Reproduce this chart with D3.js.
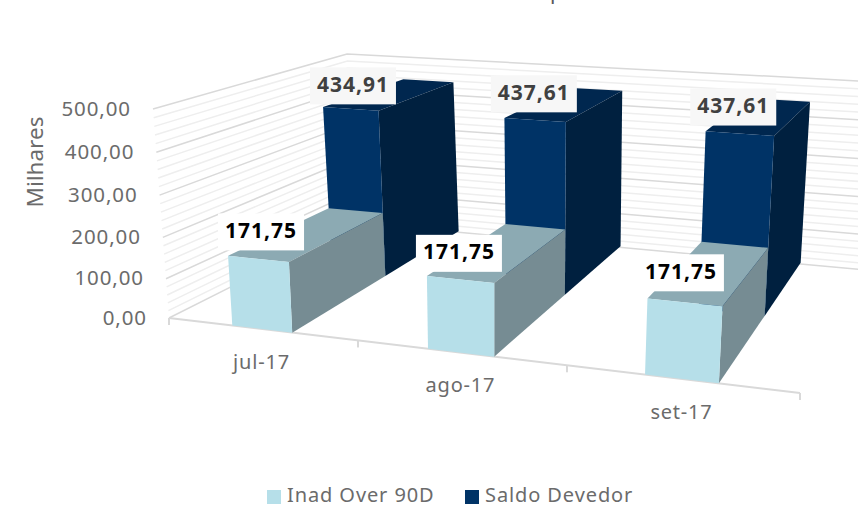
<!DOCTYPE html>
<html>
<head>
<meta charset="utf-8">
<script src="https://cdn.jsdelivr.net/npm/d3@7"></script>
<style>
  body { margin: 0; background: #fff; }
  svg { display: block; }
  text { font-family: "Noto Sans", sans-serif; }
</style>
</head>
<body>
<svg width="858" height="507"></svg>
<script>
var categories = ["jul-17", "ago-17", "set-17"];
var inadOver90 = [171.75, 171.75, 171.75];
var saldoDevedor = [434.91, 437.61, 437.61];
var seriesNames = ["Inad Over 90D", "Saldo Devedor"];
var valueTicks = [0, 100, 200, 300, 400, 500];

var svg = d3.select("svg");

// corners of the 3d box on screen, [x, y]
var floorFrontLeft = [169, 318], floorFrontRight = [800, 393],
    floorBackLeft = [358, 223], floorBackRight = [865, 270],
    topFrontLeft = [153, 109], topFrontRight = [815, 155],
    topBackLeft = [347, 54], topBackRight = [879, 82];

// the bands get wider to the right because of the perspective
var xBand = d3.scaleLinear().domain([0, 1, 2, 3]).range([0, .2995, .6307, 1]);
var yValue = d3.scalePow().exponent(1.04).domain([0, 500]).range([0, 1]);
var zDepth = d3.scaleLinear().domain([0, 1]).range([0, 1]);

function mix(a, b, t) {
  return [a[0] + (b[0] - a[0]) * t, a[1] + (b[1] - a[1]) * t];
}

// category position, value, depth -> screen
function project(c, v, d) {
  var s = xBand(c), t = yValue(v), z = zDepth(d);
  var bottom = mix(mix(floorFrontLeft, floorFrontRight, s), mix(floorBackLeft, floorBackRight, s), z);
  var top = mix(mix(topFrontLeft, topFrontRight, s), mix(topBackLeft, topBackRight, s), z);
  return mix(bottom, top, t);
}

var line = d3.line();
var fmt = d3.formatLocale({decimal: ",", thousands: ".", grouping: [3], currency: ["R$", ""]}).format(".2f");

// what is left of the title, cut by the top of the picture
svg.append("text").attr("x", 550).attr("y", -1).attr("font-size", 21).attr("fill", "#595959").text("p");

// gridlines on the two walls
var gridValues = d3.range(0, 501, 20);
var grid = svg.append("g").attr("fill", "none").attr("stroke-width", 1.5);
grid.selectAll("path")
  .data(gridValues)
  .enter()
  .append("path")
    .attr("d", function(v) { return line([project(0, v, 0), project(0, v, 1), project(3, v, 1)]); })
    .attr("stroke", function(v) { return v % 100 == 0 ? "#d9d9d9" : "#eeeeee"; });

// front axis line and its ticks
svg.append("path")
  .attr("d", line([project(0, 0, 0), project(3, 0, 0)]))
  .attr("fill", "none").attr("stroke", "#d9d9d9").attr("stroke-width", 2);
svg.selectAll(".tick-x")
  .data([0, 1, 2, 3])
  .enter()
  .append("line")
    .attr("class", "tick-x")
    .attr("x1", function(c) { return project(c, 0, 0)[0]; })
    .attr("x2", function(c) { return project(c, 0, 0)[0]; })
    .attr("y1", function(c) { return project(c, 0, 0)[1]; })
    .attr("y2", function(c) { return project(c, 0, 0)[1] + 7; })
    .attr("stroke", "#d9d9d9").attr("stroke-width", 2);

// bars, far row first
var rows = [
  {values: saldoDevedor, d0: .565, d1: 1.01, front: "#003366", top: "#00274f", side: "#00203f"},
  {values: inadOver90, d0: 0, d1: .565, front: "#b6dfe9", top: "#8caab3", side: "#768c93"}
];

rows.forEach(function(row) {
  var g = svg.append("g");
  row.values.forEach(function(v, i) {
    var l = i + .335, r = i + .652;
    g.append("path")
      .attr("d", line([project(l, v, row.d0), project(l, v, row.d1), project(r, v, row.d1), project(r, v, row.d0)]) + "Z")
      .attr("fill", row.top);
    g.append("path")
      .attr("d", line([project(r, 0, row.d0), project(r, v, row.d0), project(r, v, row.d1), project(r, 0, row.d1)]) + "Z")
      .attr("fill", row.side);
    g.append("path")
      .attr("d", line([project(l, 0, row.d0), project(l, v, row.d0), project(r, v, row.d0), project(r, 0, row.d0)]) + "Z")
      .attr("fill", row.front);
  });
});

// value axis
svg.selectAll(".tick-y")
  .data(valueTicks)
  .enter()
  .append("text")
    .attr("class", "tick-y")
    .attr("x", function(v) { return project(0, v, 0)[0] - 22; })
    .attr("y", function(v) { return project(0, v, 0)[1] + 1; })
    .attr("text-anchor", "end")
    .attr("dominant-baseline", "middle")
    .attr("font-size", 20.5)
    .attr("letter-spacing", .9)
    .attr("fill", "#6b6b6b")
    .text(function(v) { return fmt(v); });

svg.append("text")
  .attr("transform", "translate(37,162) rotate(-90)")
  .attr("text-anchor", "middle")
  .attr("dominant-baseline", "middle")
  .attr("font-size", 22.5)
  .attr("fill", "#6b6b6b")
  .text("Milhares");

// category labels
svg.selectAll(".cat")
  .data(categories)
  .enter()
  .append("text")
    .attr("class", "cat")
    .attr("x", function(d, i) { return project(i + .5, 0, 0)[0] - 2; })
    .attr("y", function(d, i) { return project(i + .5, 0, 0)[1] + 34; })
    .attr("text-anchor", "middle")
    .attr("dominant-baseline", "middle")
    .attr("font-size", 20)
    .attr("letter-spacing", .8)
    .attr("fill", "#6b6b6b")
    .text(function(d) { return d; });

// data labels, pulled off the bar tops by hand like in the original
var labelRows = [
  {values: saldoDevedor, depth: .77, box: "#f7f7f7", color: "#404040", shift: [[-33, -10], [-28, -12], [-24, -11]]},
  {values: inadOver90, depth: .28, box: "#ffffff", color: "#000000", shift: [[-45, -3], [-38, 0], [-28, -1]]}
];

labelRows.forEach(function(row) {
  row.values.forEach(function(v, i) {
    var p = project(i + .49, v, row.depth);
    var cx = p[0] + row.shift[i][0], cy = p[1] + row.shift[i][1];
    svg.append("rect")
      .attr("x", cx - 43).attr("y", cy - 18.5)
      .attr("width", 86).attr("height", 37)
      .attr("fill", row.box);
    svg.append("text")
      .attr("x", cx).attr("y", cy)
      .attr("text-anchor", "middle")
      .attr("dominant-baseline", "middle")
      .attr("font-size", 21)
      .attr("font-weight", "bold")
      .attr("letter-spacing", 1)
      .attr("fill", row.color)
      .text(fmt(v));
  });
});

// legend
var legendX = [267, 465], legendColors = ["#b6dfe9", "#003366"];
seriesNames.forEach(function(name, i) {
  svg.append("rect")
    .attr("x", legendX[i]).attr("y", 490)
    .attr("width", 14).attr("height", 14)
    .attr("fill", legendColors[i]);
  svg.append("text")
    .attr("x", legendX[i] + 20).attr("y", 497)
    .attr("dominant-baseline", "middle")
    .attr("font-size", 20)
    .attr("letter-spacing", .9)
    .attr("fill", "#6b6b6b")
    .text(name);
});
</script>
</body>
</html>
